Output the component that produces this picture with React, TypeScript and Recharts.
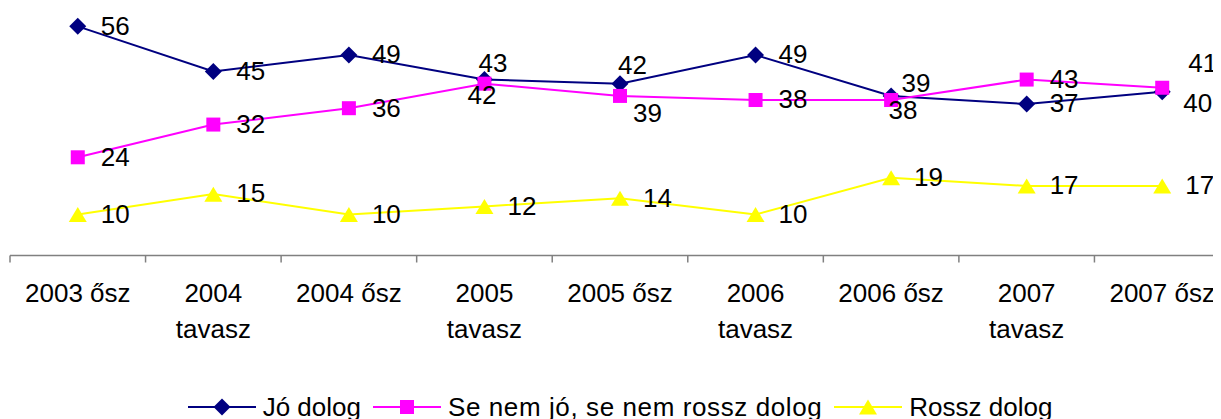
import React from 'react';
import { LineChart, Line, XAxis, YAxis, Legend, LabelList } from 'recharts';

const categories = [
  '2003 ősz',
  '2004 tavasz',
  '2004 ősz',
  '2005 tavasz',
  '2005 ősz',
  '2006 tavasz',
  '2006 ősz',
  '2007 tavasz',
  '2007 ősz',
];
const joDolog = [56, 45, 49, 43, 42, 49, 39, 37, 40];
const seNemDolog = [24, 32, 36, 42, 39, 38, 38, 43, 41];
const rosszDolog = [10, 15, 10, 12, 14, 10, 19, 17, 17];
const seriesNames = ['Jó dolog', 'Se nem jó, se nem rossz dolog', 'Rossz dolog'];
const yDomain = [0, 60];

const COLORS = { jo: '#000080', se: '#FF00FF', rossz: '#FFFF00' };
const FONT = '"Liberation Sans", Arial, Helvetica, sans-serif';
const FS = 26;

// label placement tweaks (style, not data)
const DEFAULT_LABEL = { dx: 23, dy: -1 };
const joLabelOffsets: Record<number, { dx: number; dy: number }> = {
  3: { dx: -6, dy: -16.6 },
  4: { dx: -2, dy: -18.7 },
  6: { dx: 10.5, dy: -13 },
  8: { dx: 21, dy: 11 },
};
const seLabelOffsets: Record<number, { dx: number; dy: number }> = {
  3: { dx: -17, dy: 11 },
  4: { dx: 13, dy: 17 },
  6: { dx: -2.5, dy: 10 },
  8: { dx: 26, dy: -25 },
};
const rosszLabelOffsets: Record<number, { dx: number; dy: number }> = {};

const data = categories.map((c, i) => ({
  idx: i,
  name: c,
  jo: joDolog[i],
  se: seNemDolog[i],
  rossz: rosszDolog[i],
}));

const xTicks: number[] = [];
for (let i = 0; i <= categories.length * 2; i++) xTicks.push(-0.5 + i * 0.5);

const Diamond = ({ cx, cy, fill }: any) => (
  <polygon points={`${cx},${cy - 8.5} ${cx + 8.5},${cy} ${cx},${cy + 8.5} ${cx - 8.5},${cy}`} fill={fill} />
);
const Square = ({ cx, cy, fill }: any) => <rect x={cx - 7} y={cy - 7} width={14} height={14} fill={fill} />;
const Triangle = ({ cx, cy, fill }: any) => (
  <polygon points={`${cx},${cy - 7.5} ${cx + 9},${cy + 7.5} ${cx - 9},${cy + 7.5}`} fill={fill} />
);

const makeLabel = (offsets: Record<number, { dx: number; dy: number }>) => (props: any) => {
  const { x, y, value, index } = props;
  if (x == null || y == null) return null;
  const o = offsets[index] || DEFAULT_LABEL;
  return (
    <text
      key={`l-${index}`}
      x={x + o.dx}
      y={y + o.dy + 9.3}
      fontSize={FS}
      fontFamily={FONT}
      fill="#000"
      textAnchor="start"
    >
      {value}
    </text>
  );
};

const CategoryTick = (props: any) => {
  const { x, y, payload } = props;
  const v = payload.value;
  if (Math.abs(v - Math.round(v)) > 0.01) {
    return <line x1={x} y1={y} x2={x} y2={y + 7} stroke="#808080" strokeWidth={1.5} />;
  }
  const label = categories[Math.round(v)] || '';
  const lines = label.split(' ').length > 1 && label.includes('tavasz') ? label.split(' ') : [label];
  return (
    <g>
      {lines.map((l, i) => (
        <text
          key={i}
          x={x}
          y={y + 46.7 + i * 35.3}
          textAnchor="middle"
          fontSize={FS}
          fontFamily={FONT}
          fill="#000"
        >
          {l}
        </text>
      ))}
    </g>
  );
};

const legendItems = [
  { name: seriesNames[0], color: COLORS.jo, Shape: Diamond, ls: 0 },
  { name: seriesNames[1], color: COLORS.se, Shape: Square, ls: 0.6 },
  { name: seriesNames[2], color: COLORS.rossz, Shape: Triangle, ls: 0 },
];

const LegendContent = () => (
  <div style={{ height: 40, boxSizing: 'border-box', paddingTop: 18, display: 'flex', justifyContent: 'center' }}>
    {legendItems.map((it, i) => (
      <div key={i} style={{ display: 'flex', alignItems: 'center', height: 20 }}>
        <svg width={68} height={20} style={{ marginRight: 7, overflow: 'visible' }}>
          <line x1={0} y1={10} x2={68} y2={10} stroke={it.color} strokeWidth={2} />
          <it.Shape cx={34} cy={10} fill={it.color} />
        </svg>
        <span
          style={{
            fontFamily: FONT,
            fontSize: FS,
            lineHeight: '20px',
            color: '#000',
            letterSpacing: it.ls,
            marginRight: i < legendItems.length - 1 ? 12 : 0,
            whiteSpace: 'nowrap',
          }}
        >
          {it.name}
        </span>
      </div>
    ))}
  </div>
);

export default function App() {
  return (
    <div style={{ width: 1213, height: 411, overflow: 'hidden', position: 'relative' }}>
      <LineChart width={1240} height={411} data={data} margin={{ top: 2, right: 18, bottom: 0, left: 2 }}>
        <XAxis
          dataKey="idx"
          type="number"
          domain={[-0.5, categories.length - 0.5]}
          ticks={xTicks}
          interval={0}
          tickLine={false}
          tickSize={0}
          tickMargin={0}
          height={123.5}
          axisLine={{ stroke: '#808080', strokeWidth: 1.5 }}
          tick={<CategoryTick />}
        />
        <YAxis hide domain={yDomain} />
        <Legend verticalAlign="bottom" height={40} content={<LegendContent />} />
        <Line
          dataKey="jo"
          name={seriesNames[0]}
          stroke={COLORS.jo}
          strokeWidth={2}
          isAnimationActive={false}
          activeDot={false}
          dot={(p: any) => <Diamond key={`d-${p.index}`} cx={p.cx} cy={p.cy} fill={COLORS.jo} />}
        >
          <LabelList dataKey="jo" content={makeLabel(joLabelOffsets)} />
        </Line>
        <Line
          dataKey="se"
          name={seriesNames[1]}
          stroke={COLORS.se}
          strokeWidth={2}
          isAnimationActive={false}
          activeDot={false}
          dot={(p: any) => <Square key={`s-${p.index}`} cx={p.cx} cy={p.cy} fill={COLORS.se} />}
        >
          <LabelList dataKey="se" content={makeLabel(seLabelOffsets)} />
        </Line>
        <Line
          dataKey="rossz"
          name={seriesNames[2]}
          stroke={COLORS.rossz}
          strokeWidth={2}
          isAnimationActive={false}
          activeDot={false}
          dot={(p: any) => <Triangle key={`t-${p.index}`} cx={p.cx} cy={p.cy} fill={COLORS.rossz} />}
        >
          <LabelList dataKey="rossz" content={makeLabel(rosszLabelOffsets)} />
        </Line>
      </LineChart>
    </div>
  );
}
